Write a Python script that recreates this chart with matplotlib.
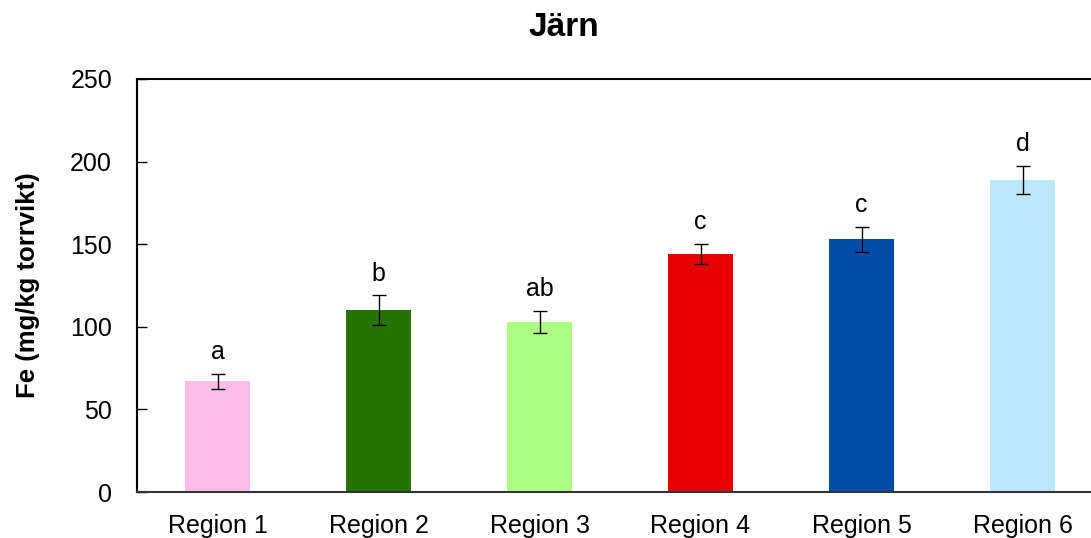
import numpy as np
import matplotlib
matplotlib.use('Agg')
import matplotlib.pyplot as plt

matplotlib.rcParams['font.family'] = ['Liberation Sans', 'DejaVu Sans']

# data
regions = ['Region 1', 'Region 2', 'Region 3', 'Region 4', 'Region 5', 'Region 6']
fe_mean = [67, 110, 103, 144, 153, 189]
fe_err = [4.6, 9.0, 6.6, 6.2, 7.7, 8.6]
letters = ['a', 'b', 'ab', 'c', 'c', 'd']
colors = ['#FDBDE7', '#267300', '#ADFF84', '#E60000', '#004DA8', '#BEE8FF']

fig = plt.figure(figsize=(10.91, 5.38), dpi=100)
ax = fig.add_axes([137 / 1091, 46 / 538, (1103 - 137) / 1091, (492 - 79) / 538])

x = np.arange(len(regions))
ax.bar(x, fe_mean, width=0.4, color=colors, zorder=2)
ax.errorbar(x, fe_mean, yerr=fe_err, fmt='none', ecolor='black',
            elinewidth=1.0, capsize=4.7, capthick=1.0, zorder=3)

for xi, m, e, lab in zip(x, fe_mean, fe_err, letters):
    ax.text(xi, m + e + 9, lab, ha='center', va='baseline', fontsize=18)

ax.set_xlim(-0.5, len(regions) - 0.5)
ax.set_ylim(0, 250)
ax.set_yticks([0, 50, 100, 150, 200, 250])
ax.set_xticks(x)
ax.set_xticklabels(regions)
ax.tick_params(axis='y', direction='in', length=7, width=1, labelsize=18, pad=18)
ax.tick_params(axis='x', length=0, labelsize=18, pad=16)

for sp in ax.spines.values():
    sp.set_linewidth(1.5)
ax.spines['bottom'].set_color('#333333')

ax.set_ylabel('Fe (mg/kg torrvikt)', fontsize=18.5, fontweight='bold', labelpad=22)
fig.text(564 / 1091, 1 - 28 / 538, 'Järn', fontsize=24, fontweight='bold',
         ha='center', va='center')

plt.savefig('out.png', dpi=100)
